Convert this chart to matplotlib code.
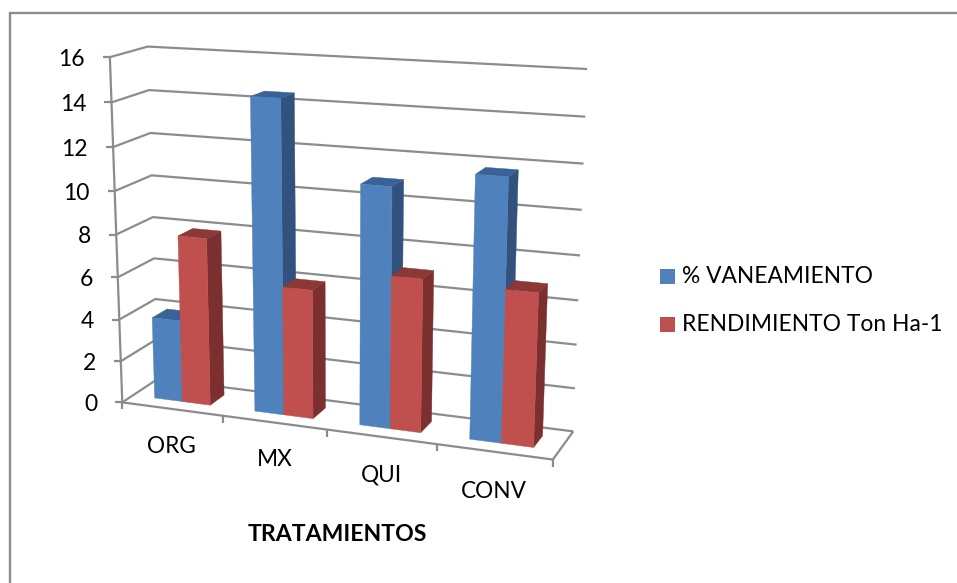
import numpy as np
import matplotlib
matplotlib.use('Agg')
import matplotlib.pyplot as plt
from matplotlib.patches import Polygon, Rectangle

categories = ['ORG', 'MX', 'QUI', 'CONV']
vaneamiento = [3.9, 14.45, 10.95, 11.75]
rendimiento = [7.9, 6.0, 7.0, 6.9]
y_ticks = [0, 2, 4, 6, 8, 10, 12, 14, 16]
legend_names = ['% VANEAMIENTO', 'RENDIMIENTO Ton Ha-1']
x_title = 'TRATAMIENTOS'

GRID = '#8c8c8c'
BLUE = ('#4f81bd', '#3a6296', '#31527c')    # front, top, side
RED = ('#c0504d', '#8c3836', '#7b2f2e')
FONT = 'Lato'

# (category, value, depth) -> pixel, fitted from the box corners seen in the picture
anchors = [
    ((0, 0, 0), (122.5, 401.7)), ((0, 16, 0), (109.5, 58)),
    ((0, 0, 1), (158, 380)), ((0, 16, 1), (148.3, 46)),
    ((4, 0, 0), (553.3, 460)), ((4, 0, 1), (572.7, 431)),
    ((4, 16, 1), (587.3, 69.3)), ((0, 8, 1), (152.5, 217)),
    ((4, 8, 1), (580, 255)), ((1, 0, 0), (222.7, 415.5)),
    ((2, 0, 0), (327, 429.5)), ((3, 0, 0), (437.7, 444.5)),
    ((0, 8, 0), (116, 234)),
]


def fit_camera(points):
    rows, rhs = [], []
    for (x, y, z), (u, v) in points:
        rows.append([x, y, z, 1, 0, 0, 0, 0, -u * x, -u * y, -u * z])
        rhs.append(u)
        rows.append([0, 0, 0, 0, x, y, z, 1, -v * x, -v * y, -v * z])
        rhs.append(v)
    sol = np.linalg.lstsq(np.array(rows, float), np.array(rhs, float), rcond=None)[0]
    return np.append(sol, 1).reshape(3, 4)


CAM = fit_camera(anchors)


def pr(x, y, z):
    p = CAM @ np.array([x, y, z, 1.0])
    return p[0] / p[2], p[1] / p[2]


fig = plt.figure(figsize=(9.57, 5.83), dpi=100)
ax = fig.add_axes([0, 0, 1, 1])
ax.set_xlim(0, 957)
ax.set_ylim(583, 0)
ax.axis('off')

# outer frame, only left and top edges are inside the picture
ax.plot([10, 10, 957], [583, 12.7, 12.7], color=GRID, lw=1.7, solid_joinstyle='miter')


def line(pts, lw=1.6):
    ax.plot([p[0] for p in pts], [p[1] for p in pts], color=GRID, lw=lw,
            solid_joinstyle='miter', solid_capstyle='butt')


# walls
for v in y_ticks:
    line([pr(0, v, 0), pr(0, v, 1), pr(4, v, 1)])
    x0, y0 = pr(0, v, 0)
    line([(x0 - 7, y0), (x0, y0)])
    ax.text(x0 - 25, y0 + 2, str(v), ha='right', va='center', fontsize=16.5,
            family=FONT, color='black')
line([pr(0, 0, 0), pr(0, 16, 0)])

# floor
line([pr(0, 0, 0), pr(4, 0, 0), pr(4, 0, 1)])
for i in range(5):
    x0, y0 = pr(i, 0, 0)
    line([(x0, y0), (x0, y0 + 7)])

# bars
MARGIN = 0.22
D0, D1 = 0.30, 0.72


def bar(x0, x1, h, cols):
    front, top, side = cols
    ax.add_patch(Polygon([pr(x1, 0, D0), pr(x1, 0, D1), pr(x1, h, D1), pr(x1, h, D0)],
                         fc=side, ec=side, lw=0.3, zorder=3))
    ax.add_patch(Polygon([pr(x0, h, D0), pr(x1, h, D0), pr(x1, h, D1), pr(x0, h, D1)],
                         fc=top, ec=top, lw=0.3, zorder=3))
    ax.add_patch(Polygon([pr(x0, 0, D0), pr(x1, 0, D0), pr(x1, h, D0), pr(x0, h, D0)],
                         fc=front, ec=front, lw=0.3, zorder=3))


for i in range(len(categories)):
    mid = i + 0.5
    bar(i + MARGIN, mid, vaneamiento[i], BLUE)
    bar(mid, i + 1 - MARGIN, rendimiento[i], RED)

# category labels
label_xy = [(171.7, 446.7), (275, 460), (381.7, 475), (494, 491)]
for name, (lx, ly) in zip(categories, label_xy):
    ax.text(lx, ly, name, ha='center', va='center', fontsize=16.3, family=FONT)

ax.text(337.7, 534.5, x_title, ha='center', va='center', fontsize=16.6, fontweight='bold', family=FONT)

# legend
for name, col, ly in zip(legend_names, (BLUE[0], RED[0]), (276, 324)):
    ax.add_patch(Rectangle((660, ly - 7), 15, 15, fc=col, ec='none'))
    ax.text(682, ly + 0.5, name, ha='left', va='center', fontsize=16.4, family=FONT)

fig.savefig('out.png', dpi=100)
